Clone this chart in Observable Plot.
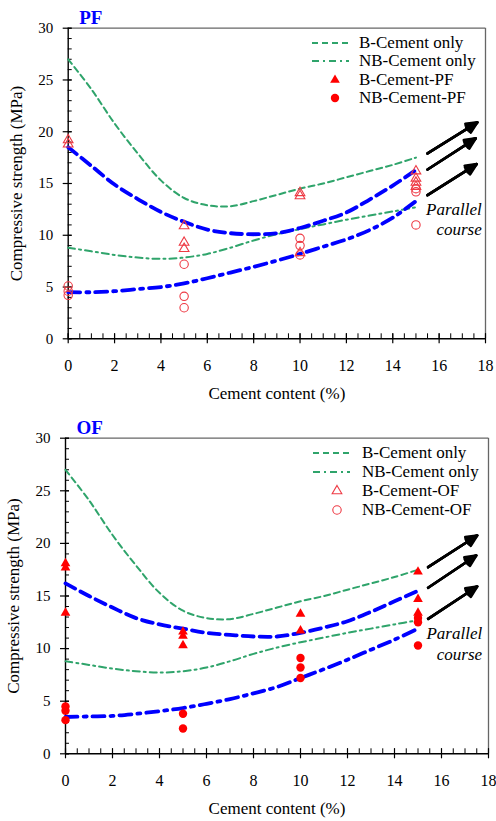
<!DOCTYPE html>
<html><head><meta charset="utf-8">
<script src="https://cdn.jsdelivr.net/npm/d3@7"></script>
<script src="https://cdn.jsdelivr.net/npm/@observablehq/plot@0.6"></script>
<style>
body{margin:0;background:#fff;font-family:"Liberation Serif","Times New Roman",serif;}
.panel{position:relative;width:496px;}
.lg{position:absolute;white-space:nowrap;font-size:17px;line-height:20px;color:#000;}
</style></head><body>
<div id="pf" class="panel" style="height:410px"></div>
<div id="of" class="panel" style="height:411px"></div>
<script>
// ---- data ----
const xTicks = [0, 2, 4, 6, 8, 10, 12, 14, 16, 18];
const yTicks = [0, 5, 10, 15, 20, 25, 30];
const cement = [0, 1, 2, 3, 4, 5, 6, 7, 8, 9, 10, 11, 12, 13, 14, 15];
const bCementOnly  = [27.0, 24.1, 20.8, 17.9, 15.3, 13.6, 12.9, 12.8, 13.3, 13.9, 14.5, 15.0, 15.6, 16.2, 16.8, 17.5];
const nbCementOnly = [8.8, 8.45, 8.1, 7.85, 7.72, 7.85, 8.2, 8.8, 9.5, 10.1, 10.6, 11.05, 11.5, 11.9, 12.3, 12.7];
const pfBFit  = [18.5, 16.7, 14.9, 13.5, 12.25, 11.3, 10.55, 10.2, 10.1, 10.2, 10.7, 11.4, 12.2, 13.45, 14.8, 16.3];
const pfNBFit = [4.5, 4.5, 4.6, 4.8, 5.0, 5.35, 5.85, 6.4, 6.95, 7.55, 8.2, 8.9, 9.6, 10.5, 11.7, 13.3];
const ofBFit  = [16.2, 15.0, 13.9, 12.9, 12.3, 11.9, 11.5, 11.3, 11.15, 11.15, 11.5, 12.0, 12.6, 13.5, 14.5, 15.5];
const ofNBFit = [3.5, 3.55, 3.6, 3.8, 4.05, 4.35, 4.75, 5.2, 5.75, 6.35, 7.2, 8.05, 8.95, 9.9, 10.85, 11.9];

const pfBX  = [0, 0, 5, 5, 5, 10, 10, 10, 15, 15, 15, 15];
const pfBY  = [19.2, 18.8, 10.9, 9.3, 8.7, 14.1, 13.8, 8.3, 16.2, 15.5, 15.1, 14.7];
const pfNBX = [0, 0, 0, 5, 5, 5, 10, 10, 10, 15, 15, 15];
const pfNBY = [5.1, 4.6, 4.2, 7.2, 4.1, 3.0, 9.7, 9.0, 8.1, 14.5, 14.2, 11.0];
const ofBX  = [0, 0, 0, 5, 5, 5, 10, 10, 15, 15, 15];
const ofBY  = [18.1, 17.7, 13.4, 11.6, 11.2, 10.3, 13.3, 11.7, 17.3, 14.7, 13.4];
const ofNBX = [0, 0, 0, 5, 5, 10, 10, 10, 15, 15, 15];
const ofNBY = [4.5, 4.1, 3.2, 3.8, 2.4, 9.1, 8.2, 7.2, 12.9, 12.5, 10.3];

const pfArrowX1 = [15.5, 15.5, 15.5], pfArrowY1 = [17.9, 16.35, 13.87];
const pfArrowX2 = [17.65, 17.58, 17.62], pfArrowY2 = [20.9, 19.36, 16.87];
const ofArrowX1 = [15.43, 15.43, 15.43], ofArrowY1 = [17.74, 15.78, 12.83];
const ofArrowX2 = [17.52, 17.48, 17.52], ofArrowY2 = [20.75, 18.85, 15.9];

const noteLines = ["Parallel", "course"];
const pfNoteX = 17.84, pfNoteY = [12.0, 10.0];
const ofNoteX = 17.73, ofNoteY = [10.93, 8.93];

const legendLabelsPF = ["B-Cement only", "NB-Cement only", "B-Cement-PF", "NB-Cement-PF"];
const legendLabelsOF = ["B-Cement only", "NB-Cement only", "B-Cement-OF", "NB-Cement-OF"];

// ---- styles ----
const serif = '"Liberation Serif","Times New Roman",serif';
const GREEN = "#2fa46b", BLUE = "#0000ff", RED = "#ff0000", LRED = "#ee3a44";
const S = {
  bOnly:  {stroke: GREEN, strokeWidth: 2, strokeDasharray: "6,4"},
  nbOnly: {stroke: GREEN, strokeWidth: 2, strokeDasharray: "7,4,2,4"},
  bFit:   {stroke: BLUE, strokeWidth: 3.8, strokeDasharray: "11,6"},
  nbFit:  {stroke: BLUE, strokeWidth: 3.8, strokeDasharray: "12,6,3,6"}
};

function pts(xs, ys) { return xs.map((x, i) => ({x, y: ys[i]})); }

function panel(o) {
  const line = (ys, st) => Plot.line(pts(cement, ys), {x: "x", y: "y", curve: "catmull-rom", ...st});
  const arrows = o.ax1.map((x1, i) => ({x1, y1: o.ay1[i], x2: o.ax2[i], y2: o.ay2[i]}));
  const dotOpts = o.filled
    ? (sym) => ({x: "x", y: "y", symbol: sym, r: sym === "circle" ? 4.2 : 3.6, fill: RED, stroke: "none"})
    : (sym) => ({x: "x", y: "y", symbol: sym, r: sym === "circle" ? 4.2 : 3.6, fill: "none", stroke: LRED, strokeWidth: 1.1});
  return Plot.plot({
    width: 496, height: o.height,
    marginLeft: o.ml, marginRight: o.mr, marginTop: o.mt, marginBottom: o.mb,
    x: {domain: [0, 18]}, y: {domain: [0, 30]},
    style: {fontFamily: serif},
    marks: [
      Plot.ruleY([30], {stroke: "#666", strokeWidth: 1.3}),
      Plot.ruleX([18], {stroke: "#666", strokeWidth: 1.3}),
      Plot.axisY({ticks: yTicks, tickSize: 0, tickPadding: 15, fontSize: 15, label: null}),
      Plot.axisY({ticks: yTicks, tickSize: 9, dx: 4, tickFormat: () => "", label: null, strokeWidth: 1.2}),
      Plot.axisY({ticks: d3.range(0, 31, 1), tickSize: 4, dx: 4, tickFormat: () => "", label: null}),
      Plot.axisX({ticks: xTicks, tickSize: 0, tickPadding: 21, fontSize: 16, label: null}),
      Plot.axisX({ticks: xTicks, tickSize: 10, dy: -5, tickFormat: () => "", label: null, strokeWidth: 1.2}),
      Plot.axisX({ticks: d3.range(0, 18.01, 0.5), tickSize: 5, dy: -5, tickFormat: () => "", label: null}),
      Plot.ruleX([0], {stroke: "#000", strokeWidth: 1.4}),
      Plot.ruleY([0], {stroke: "#000", strokeWidth: 1.4}),
      line(bCementOnly, S.bOnly),
      line(nbCementOnly, S.nbOnly),
      line(o.bFit, S.bFit),
      line(o.nbFit, S.nbFit),
      Plot.dot(pts(o.bx, o.by), dotOpts("triangle")),
      Plot.dot(pts(o.nbx, o.nby), dotOpts("circle")),
      ...[50, 34, 18].map(a => Plot.arrow(arrows, {x1: "x1", y1: "y1", x2: "x2", y2: "y2", stroke: "#000", strokeWidth: 2.6, headAngle: a, headLength: 7})),
      Plot.text(noteLines.map((t, i) => ({t, x: o.noteX, y: o.noteY[i]})), {x: "x", y: "y", text: "t", textAnchor: "end", lineAnchor: "bottom", fontStyle: "italic", fontSize: 17}),
      Plot.text([o.title], {text: d => d, frameAnchor: "top-left", dx: 11, dy: -4, lineAnchor: "bottom", textAnchor: "start", fill: BLUE, fontWeight: "bold", fontSize: 19}),
      Plot.text(["Compressive strength (MPa)"], {text: d => d, frameAnchor: "left", rotate: -90, textAnchor: "middle", lineAnchor: "middle", dx: -52, fontSize: 17}),
      Plot.text(["Cement content (%)"], {text: d => d, frameAnchor: "bottom", textAnchor: "middle", lineAnchor: "middle", dy: 55, fontSize: 17})
    ]
  });
}

function addLegend(container, labels, o) {
  const kinds = ["bOnly", "nbOnly", "tri", "circ"];
  labels.forEach((label, i) => {
    const cy = o.top + i * o.step;
    const w = 60, h = 16;
    const left = o.lineX0 - 5;
    const svg = d3.create("svg").attr("width", w).attr("height", h)
      .style("position", "absolute").style("left", left + "px").style("top", (cy - h / 2) + "px").style("overflow", "visible");
    const k = kinds[i];
    if (k === "bOnly" || k === "nbOnly") {
      const st = S[k];
      svg.append("line").attr("x1", o.lineX0 - left).attr("x2", o.lineX1 - left).attr("y1", h / 2).attr("y2", h / 2)
        .attr("stroke", st.stroke).attr("stroke-width", st.strokeWidth).attr("stroke-dasharray", st.strokeDasharray);
    } else {
      const r = k === "circ" ? 4.2 : 3.6;
      const sym = d3.symbol(k === "circ" ? d3.symbolCircle : d3.symbolTriangle, Math.PI * r * r);
      const p = svg.append("path").attr("d", sym()).attr("transform", `translate(${o.markX - left},${h / 2})`);
      if (o.filled) p.attr("fill", RED);
      else p.attr("fill", "none").attr("stroke", LRED).attr("stroke-width", 1.1);
    }
    container.appendChild(svg.node());
    const div = document.createElement("div");
    div.className = "lg";
    div.style.left = o.textX + "px";
    div.style.top = (cy - 10) + "px";
    div.textContent = label;
    container.appendChild(div);
  });
}

const pfEl = document.getElementById("pf");
pfEl.appendChild(panel({
  title: "PF", height: 410, ml: 67.7, mr: 11, mt: 27.7, mb: 71.7,
  bFit: pfBFit, nbFit: pfNBFit, bx: pfBX, by: pfBY, nbx: pfNBX, nby: pfNBY, filled: false,
  ax1: pfArrowX1, ay1: pfArrowY1, ax2: pfArrowX2, ay2: pfArrowY2, noteX: pfNoteX, noteY: pfNoteY
}));
addLegend(pfEl, legendLabelsPF, {top: 43, step: 18.4, lineX0: 312, lineX1: 349, markX: 335, textX: 359, filled: true});

const ofEl = document.getElementById("of");
ofEl.appendChild(panel({
  title: "OF", height: 411, ml: 65, mr: 8, mt: 27.7, mb: 67.7,
  bFit: ofBFit, nbFit: ofNBFit, bx: ofBX, by: ofBY, nbx: ofNBX, nby: ofNBY, filled: true,
  ax1: ofArrowX1, ay1: ofArrowY1, ax2: ofArrowX2, ay2: ofArrowY2, noteX: ofNoteX, noteY: ofNoteY
}));
addLegend(ofEl, legendLabelsOF, {top: 43, step: 19, lineX0: 313, lineX1: 350, markX: 337, textX: 362, filled: false});
</script>
</body></html>
